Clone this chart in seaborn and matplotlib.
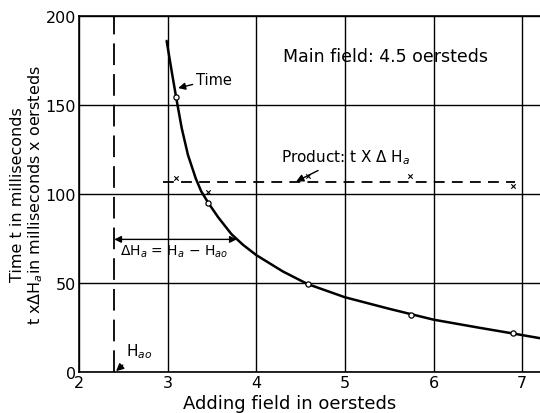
import numpy as np
import pandas as pd
import matplotlib
matplotlib.use("Agg")
import matplotlib.pyplot as plt
import seaborn as sns

# curve of time t against adding field
curve_x = [2.99, 3.05, 3.10, 3.16, 3.23, 3.32, 3.38, 3.46, 3.57, 3.72, 3.85, 4.00, 4.30, 4.58, 5.00, 5.50, 6.00, 6.50, 6.90, 7.20]
curve_t = [186, 168, 153.5, 137, 122, 108.5, 101.5, 95, 87, 77.5, 71.5, 65.7, 56.5, 49.4, 42, 35.5, 29.4, 25, 21.6, 19]

# measured points (open circles) and product points (crosses)
time_x = [3.09, 3.46, 4.58, 5.74, 6.89]
time_t = [154.5, 95, 49.4, 32.2, 21.7]
prod_x = [3.09, 3.46, 4.58, 5.73, 6.89]
prod_v = [109, 101, 110, 110, 104.5]
prod_mean = 107
prod_span = [2.95, 6.92]
hao = 2.4

x_ticks = [2, 3, 4, 5, 6, 7]
y_ticks = [0, 50, 100, 150, 200]

sns.set_style("white")
plt.rcParams['font.family'] = ['DejaVu Sans']
plt.rcParams['mathtext.fontset'] = 'dejavusans'
plt.rcParams['text.color'] = 'black'
plt.rcParams['axes.labelcolor'] = 'black'
plt.rcParams['xtick.color'] = 'black'
plt.rcParams['ytick.color'] = 'black'

fig = plt.figure(figsize=(5.4, 4.14), dpi=100)
ax = fig.add_axes([0.146, 0.099, 0.854, 0.86])

curve = pd.DataFrame({"x": curve_x, "t": curve_t})
sns.lineplot(data=curve, x="x", y="t", ax=ax, color="black", lw=1.8, sort=False)

pts = pd.DataFrame({"x": time_x, "t": time_t})
sns.scatterplot(data=pts, x="x", y="t", ax=ax, marker="o", s=14,
                facecolor="white", edgecolor="black", linewidth=0.9, zorder=5)

prod = pd.DataFrame({"x": prod_x, "v": prod_v})
sns.scatterplot(data=prod, x="x", y="v", ax=ax, marker="x", s=10,
                color="black", linewidth=0.8, zorder=5)

ax.plot(prod_span, [prod_mean, prod_mean], color="black", lw=1.3, ls=(0, (6, 4)))
ax.axvline(hao, color="black", lw=1.3, ls=(0, (12, 5)))

ax.set_xlim(2, 7.2)
ax.set_ylim(0, 200)
ax.set_xticks(x_ticks)
ax.set_yticks(y_ticks)
ax.grid(True, color="black", lw=1.0)
ax.tick_params(length=0, labelsize=11.5, pad=2)
for s in ["left", "bottom", "top"]:
    ax.spines[s].set_color("black")
    ax.spines[s].set_linewidth(1.2)
ax.spines["right"].set_visible(False)

ax.set_xlabel("Adding field in oersteds", fontsize=13)
ax.xaxis.set_label_coords(0.458, -0.062)
ax.set_ylabel("Time t in milliseconds\n" + r"t x$\Delta$H$_a$in milliseconds x oersteds",
              fontsize=11.5, linespacing=1.05)
ax.yaxis.set_label_coords(-0.074, 0.5)

ax.text(4.30, 177.5, "Main field: 4.5 oersteds", fontsize=12.5, va="center")
ax.annotate("Time", xy=(3.12, 159.5), xytext=(3.32, 164.5), fontsize=10.5, va="center",
            arrowprops=dict(arrowstyle="-|>", color="black", lw=1, shrinkA=0, shrinkB=0))
ax.annotate(r"Product: t X $\Delta$ H$_a$", xy=(4.45, 107), xytext=(4.28, 121), fontsize=11,
            va="center", arrowprops=dict(arrowstyle="-|>", color="black", lw=1,
                                          shrinkA=2, shrinkB=0))
ax.annotate("", xy=(hao, 74.5), xytext=(3.78, 74.5),
            arrowprops=dict(arrowstyle="<|-|>", color="black", lw=1, shrinkA=0, shrinkB=0))
ax.text(2.46, 68, r"$\Delta$H$_a$ = H$_a$ $-$ H$_{ao}$", fontsize=10, va="center")
ax.annotate(r"H$_{ao}$", xy=(2.42, 0.5), xytext=(2.53, 12), fontsize=11, va="center",
            arrowprops=dict(arrowstyle="-|>", color="black", lw=1, shrinkA=2, shrinkB=0))

fig.savefig("out.png", dpi=100)
